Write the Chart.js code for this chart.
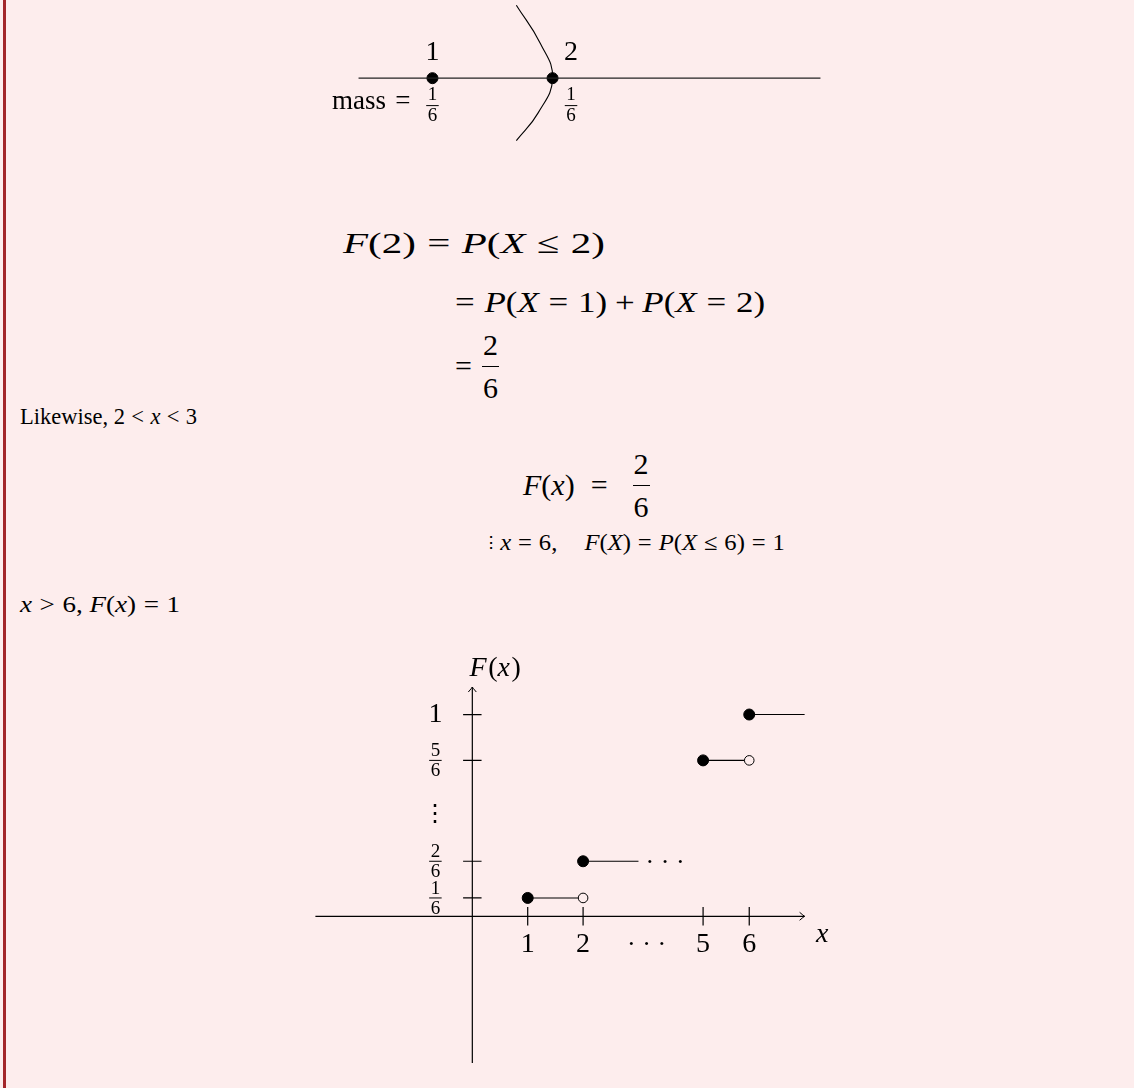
<!DOCTYPE html>
<html>
<head>
<meta charset="utf-8">
<script src="https://cdn.jsdelivr.net/npm/chart.js@4.4.0/dist/chart.umd.min.js"></script>
<style>
  html, body { margin: 0; padding: 0; }
  body { width: 1134px; height: 1088px; background: #fdeded; position: relative; overflow: hidden; }
  #bar { position: absolute; left: 3px; top: 0; width: 3px; height: 1088px; background: #a3262a; }
  canvas { position: absolute; }
  #numline { left: 280px; top: 0px; }
  #cdf { left: 290px; top: 640px; }
  .t { position: absolute; font: 23px "Liberation Serif", serif; line-height: 28px; white-space: nowrap; color: #000; }
  .d { font-size: 30px; line-height: 36px; }
  .r { margin: 0 0.28em; }
  .b { margin: 0 0.22em; }
  .row { display: flex; align-items: center; }
  .frac { display: inline-flex; flex-direction: column; align-items: center; }
  .frac span { display: block; line-height: 24px; padding: 0 1px; }
  .frac .n { padding-bottom: 9px; }
  .frac .m { padding-top: 9px; }
  .frac .line { width: 100%; height: 0; border-top: 1.2px solid #000; padding: 0; }
</style>
</head>
<body>
<div id="bar"></div>
<canvas id="numline" width="580" height="160"></canvas>

<div class="t d fit" data-w="262" style="left:343px;top:225px"><i>F</i>(2)<span class="r">=</span><i>P</i>(<i>X</i><span class="r">≤</span>2)</div>
<div class="t d fit" data-w="310" style="left:455px;top:284px">=<span style="margin-left:0.28em"></span><i>P</i>(<i>X</i><span class="r">=</span>1)<span class="b">+</span><i>P</i>(<i>X</i><span class="r">=</span>2)</div>
<div class="t d row" style="left:455px;top:320px;height:92px">=<span class="frac" style="margin-left:10px"><span class="n">2</span><span class="line"></span><span class="m">6</span></span></div>
<div class="t fit" data-w="177" style="left:20px;top:403px">Likewise, 2<span class="r">&lt;</span><i>x</i><span class="r">&lt;</span>3</div>
<div class="t d row" style="left:523px;top:439px;height:92px"><i>F</i>(<i>x</i>)<span style="margin-left:16px">=</span><span class="frac" style="margin-left:25px"><span class="n">2</span><span class="line"></span><span class="m">6</span></span></div>
<div class="t fit" data-w="303" style="left:482px;top:529px"><span style="font-size:17px;vertical-align:2px">⋮</span><i>x</i><span class="r">=</span>6,<span style="margin-left:1.1em"></span><i>F</i>(<i>X</i>)<span class="r">=</span><i>P</i>(<i>X</i><span class="r">≤</span>6)<span class="r">=</span>1</div>
<div class="t fit" data-w="160" style="left:20px;top:591px"><i>x</i><span class="r">&gt;</span>6, <i>F</i>(<i>x</i>)<span class="r">=</span>1</div>

<canvas id="cdf" width="560" height="440"></canvas>

<script>
// drawing units are centimetres of the original figure
const CM = 37.8;
const BG = '#fdeded';

// number line: two atoms
const atomX = [0, 3.25];
const atomLabels = ['1', '2'];
const atomMass = [['1', '6'], ['1', '6']];
const lineFrom = -2;
const lineTo = 10.5;
// cut curve through the second atom
const cutX = [2.27, 2.92, 3.25, 2.86, 2.27];
const cutY = [2.1, 1.0, 0, -1.0, -1.8];

// step function F(x)
const xTickPos = [1.5, 3, 6.25, 7.5];
const xTickLabels = ['1', '2', '5', '6'];
const yTickPos = [0.5, 1.5, 4.25, 5.5];
const yTickLabels = [['1', '6'], ['2', '6'], ['5', '6'], '1'];
const stepFrom = [1.5, 3, 6.25, 7.5];
const stepTo = [3, 4.5, 7.5, 9];
const stepLevel = [0.5, 1.5, 4.25, 5.5];
const stepEndOpen = [true, false, true, false];

const serif = '"Liberation Serif", serif';

// widen the text lines to the width they take in the original
document.querySelectorAll('.fit').forEach(el => {
  const w = +el.dataset.w;
  const nat = el.getBoundingClientRect().width;
  el.style.transformOrigin = 'left center';
  el.style.transform = 'scaleX(' + (w / nat).toFixed(3) + ')';
});

function drawFrac(ctx, parts, x, y, size, up, down) {
  ctx.save();
  ctx.font = size + 'px ' + serif;
  ctx.textAlign = 'center';
  ctx.textBaseline = 'middle';
  ctx.fillStyle = '#000';
  const w = ctx.measureText(parts[0]).width + 3;
  ctx.fillText(parts[0], x, y - up);
  ctx.fillText(parts[1], x, y + down);
  ctx.fillRect(x - w / 2, y - 0.5, w, 1);
  ctx.restore();
}

// pieces: [text, italic]
function drawMath(ctx, pieces, x, y, size, align) {
  ctx.save();
  ctx.textBaseline = 'middle';
  ctx.textAlign = 'left';
  ctx.fillStyle = '#000';
  const fontOf = it => (it ? 'italic ' : '') + size + 'px ' + serif;
  let total = 0;
  pieces.forEach(p => { ctx.font = fontOf(p[1]); total += ctx.measureText(p[0]).width + (p[1] ? 1.5 : 0); });
  let cx = align === 'right' ? x - total : align === 'left' ? x : x - total / 2;
  pieces.forEach(p => {
    ctx.font = fontOf(p[1]);
    ctx.fillText(p[0], cx, y);
    cx += ctx.measureText(p[0]).width + (p[1] ? 1.5 : 0);
  });
  ctx.restore();
}

function arrowHead(ctx, x, y, dir) {
  ctx.save();
  ctx.translate(x, y);
  ctx.rotate(dir);
  ctx.beginPath();
  ctx.moveTo(-5, -4);
  ctx.quadraticCurveTo(-1, -0.5, 0, 0);
  ctx.quadraticCurveTo(-1, 0.5, -5, 4);
  ctx.stroke();
  ctx.restore();
}

// ---------- number line ----------
const nl = document.getElementById('numline');
const nlY0 = 78;          // page y of the line, canvas top at 0
const nlX0 = 429.3 - 280; // page x of first atom minus canvas left

const numLabels = {
  id: 'numLabels',
  afterDatasetsDraw(chart) {
    const ctx = chart.ctx;
    const xs = chart.scales.x, ys = chart.scales.y;
    atomX.forEach((v, i) => {
      const px = xs.getPixelForValue(i === 0 ? v : v + 0.5);
      drawMath(ctx, [[atomLabels[i], false]], px, ys.getPixelForValue(0.73), 28);
      drawFrac(ctx, atomMass[i], px, ys.getPixelForValue(-0.79), 19, 11, 10);
    });
    drawMath(ctx, [['mass', false]], xs.getPixelForValue(-1.99), ys.getPixelForValue(-0.68), 27);
    drawMath(ctx, [['=', false]], xs.getPixelForValue(-0.8), ys.getPixelForValue(-0.68), 27);
  }
};

new Chart(nl, {
  type: 'line',
  data: {
    datasets: [
      {
        data: [{ x: lineFrom, y: 0 }, { x: lineTo, y: 0 }],
        borderColor: '#222', borderWidth: 1.2, pointRadius: 0
      },
      {
        data: cutX.map((x, i) => ({ x, y: cutY[i] })),
        borderColor: '#000', borderWidth: 1.1, pointRadius: 0, tension: 0.45, clip: false
      },
      {
        data: atomX.map(x => ({ x, y: 0 })),
        showLine: false, pointRadius: 5.5, pointBackgroundColor: '#000', pointBorderColor: '#000'
      }
    ]
  },
  options: {
    responsive: false,
    animation: false,
    events: [],
    layout: { padding: 0 },
    plugins: { legend: { display: false }, tooltip: { enabled: false } },
    scales: {
      x: { type: 'linear', display: false, min: -nlX0 / CM, max: (580 - nlX0) / CM },
      y: { type: 'linear', display: false, min: -(160 - nlY0) / CM, max: nlY0 / CM }
    }
  },
  plugins: [numLabels]
});

// ---------- F(x) ----------
const cdf = document.getElementById('cdf');
const ox = 470 - 290, oy = 918 - 640; // origin inside canvas

const axesPlugin = {
  id: 'axesPlugin',
  beforeDatasetsDraw(chart) {
    const ctx = chart.ctx;
    const xs = chart.scales.x, ys = chart.scales.y;
    const X = v => xs.getPixelForValue(v), Y = v => ys.getPixelForValue(v);
    ctx.save();
    ctx.strokeStyle = '#000';
    ctx.lineWidth = 1.2;
    ctx.beginPath();
    ctx.moveTo(X(-4.25), Y(0)); ctx.lineTo(X(9.0), Y(0));
    ctx.moveTo(X(0), Y(-4.0)); ctx.lineTo(X(0), Y(6.25));
    xTickPos.forEach(v => { ctx.moveTo(X(v), Y(0.25)); ctx.lineTo(X(v), Y(-0.25)); });
    yTickPos.forEach(v => { ctx.moveTo(X(-0.25), Y(v)); ctx.lineTo(X(0.25), Y(v)); });
    ctx.stroke();
    ctx.lineWidth = 1;
    arrowHead(ctx, X(9.0), Y(0), 0);
    arrowHead(ctx, X(0), Y(6.25), -Math.PI / 2);
    ctx.restore();

    xTickPos.forEach((v, i) => drawMath(ctx, [[xTickLabels[i], false]], X(v), Y(-0.78), 28));
    drawMath(ctx, [['· · ·', false]], X(4.72), Y(-0.8), 26);
    drawMath(ctx, [['x', true]], X(9.5), Y(-0.5), 28);
    yTickPos.forEach((v, i) => {
      const lab = yTickLabels[i];
      if (Array.isArray(lab)) drawFrac(ctx, lab, X(-1.0), Y(v), 19, 9, 11);
      else drawMath(ctx, [[lab, false]], X(-1.0), Y(v), 28);
    });
    drawMath(ctx, [['⋮', false]], X(-1.0), Y(2.78), 24);
    drawMath(ctx, [['· · ·', false]], X(5.22), Y(1.45), 26);
    drawMath(ctx, [['F', true], ['(', false], ['x', true], [')', false]], X(0.62), Y(6.75), 28);
  }
};

new Chart(cdf, {
  type: 'line',
  data: {
    datasets: stepFrom.map((x0, i) => ({
      data: [{ x: x0, y: stepLevel[i] }, { x: stepTo[i], y: stepLevel[i] }],
      borderColor: '#000',
      borderWidth: 1.1,
      pointRadius: [5.5, stepEndOpen[i] ? 4.8 : 0],
      pointBackgroundColor: ['#000', BG],
      pointBorderColor: '#000',
      pointBorderWidth: 1,
      clip: false
    }))
  },
  options: {
    responsive: false,
    animation: false,
    events: [],
    layout: { padding: 0 },
    plugins: { legend: { display: false }, tooltip: { enabled: false } },
    scales: {
      x: { type: 'linear', display: false, min: -ox / CM, max: (560 - ox) / CM },
      y: { type: 'linear', display: false, min: -(440 - oy) / CM, max: oy / CM }
    }
  },
  plugins: [axesPlugin]
});
</script>
</body>
</html>
